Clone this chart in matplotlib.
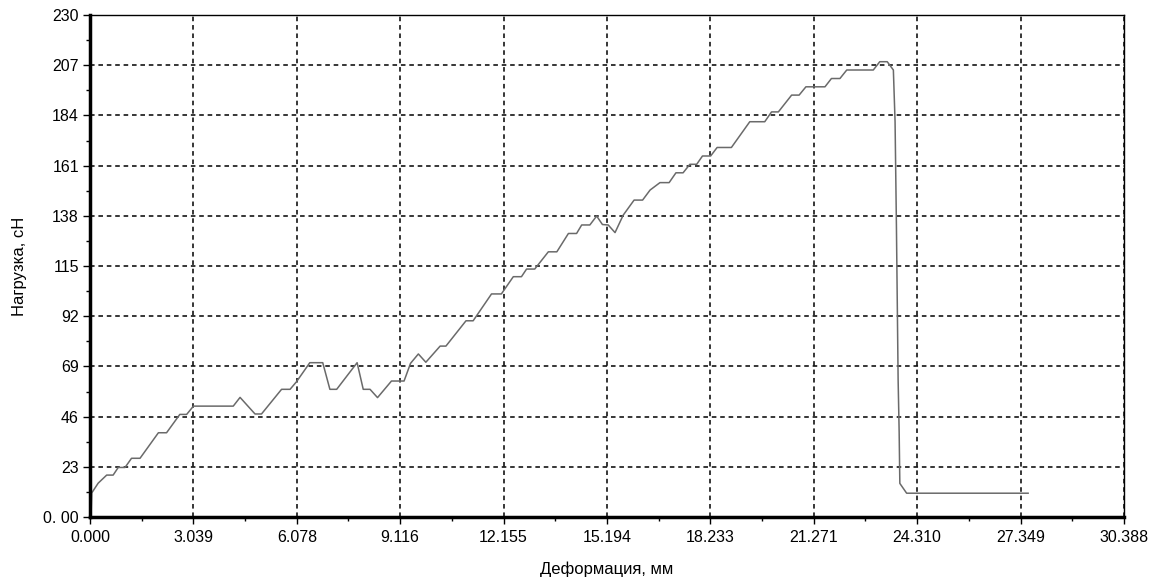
import matplotlib
matplotlib.use("Agg")
import matplotlib.pyplot as plt
from matplotlib.ticker import FixedLocator

plt.rcParams['font.family'] = ['Liberation Sans', 'DejaVu Sans']

# Deformation, mm
deform = [0.03, 0.05, 0.24, 0.49, 0.68, 0.83, 1.03, 1.22, 1.47, 2.01, 2.25, 2.64, 2.84,
          3.04, 4.21, 4.41, 4.85, 5.04, 5.63, 5.88, 6.07, 6.46, 6.84, 7.05, 7.25, 7.85,
          8.03, 8.23, 8.45, 8.86, 9.23, 9.42, 9.65, 9.87, 10.29, 10.46, 11.05, 11.26,
          11.80, 12.09, 12.44, 12.68, 12.83, 13.07, 13.47, 13.72, 14.06, 14.30, 14.45,
          14.69, 14.89, 15.06, 15.23, 15.43, 15.67, 15.99, 16.24, 16.46, 16.75, 17.02,
          17.22, 17.43, 17.63, 17.83, 18.00, 18.24, 18.43, 18.85, 19.39, 19.83, 20.03,
          20.23, 20.62, 20.84, 21.04, 21.60, 21.79, 22.04, 22.24, 23.02, 23.21, 23.43,
          23.61, 23.66, 23.70, 23.75, 23.78, 23.80, 24.00, 27.57]
# Load, cN
load = [0.0, 11.0, 15.5, 19.2, 19.2, 22.7, 22.7, 26.9, 26.9, 38.6, 38.6, 47.0, 47.0,
        50.8, 50.8, 54.8, 47.2, 47.2, 58.5, 58.5, 62.0, 70.7, 70.7, 58.5, 58.5, 70.7,
        58.5, 58.5, 54.7, 62.3, 62.3, 70.4, 74.7, 70.9, 78.3, 78.3, 89.9, 89.9,
        102.2, 102.2, 110.1, 110.1, 113.6, 113.6, 121.5, 121.5, 129.9, 129.9, 133.8,
        133.8, 137.9, 134.0, 133.8, 130.3, 138.3, 145.2, 145.2, 149.8, 153.2, 153.2,
        157.7, 157.7, 161.6, 161.6, 165.4, 165.4, 169.3, 169.3, 181.1, 181.1, 185.6,
        185.6, 193.3, 193.3, 197.1, 197.1, 200.9, 200.9, 204.8, 204.8, 208.6, 208.6,
        204.8, 181.1, 133.0, 62.7, 39.0, 15.4, 10.9, 10.9]

x_ticks = [0.000, 3.039, 6.078, 9.116, 12.155, 15.194, 18.233, 21.271, 24.310, 27.349, 30.388]
x_labels = ["0.000", "3.039", "6.078", "9.116", "12.155", "15.194", "18.233", "21.271",
            "24.310", "27.349", "30.388"]
y_ticks = [0, 23, 46, 69, 92, 115, 138, 161, 184, 207, 230]
y_labels = ["0. 00", "23", "46", "69", "92", "115", "138", "161", "184", "207", "230"]

fig = plt.figure(figsize=(11.49, 5.80), dpi=100)
ax = fig.add_axes([90/1149, 1 - 517/580, (1124 - 90)/1149, (517 - 15)/580])

ax.plot(deform, load, color='#6a6a6a', lw=1.1)

ax.set_xlim(0, 30.388)
ax.set_ylim(0, 230)
ax.set_xticks(x_ticks)
ax.set_xticklabels(x_labels)
ax.set_yticks(y_ticks)
ax.set_yticklabels(y_labels)
xm = [(x_ticks[i] + x_ticks[i + 1]) / 2 for i in range(len(x_ticks) - 1)]
ym = [(y_ticks[i] + y_ticks[i + 1]) / 2 for i in range(len(y_ticks) - 1)]
ax.xaxis.set_minor_locator(FixedLocator(xm))
ax.yaxis.set_minor_locator(FixedLocator(ym))

ax.tick_params(axis='both', which='major', direction='out', length=5, width=1,
               labelsize=11.5, colors='black')
ax.tick_params(axis='both', which='minor', direction='out', length=3, width=1)
ax.tick_params(axis='x', pad=4)
ax.tick_params(axis='y', pad=3)

ax.grid(True, which='major', color='black', linestyle=(0, (3, 2.5)), lw=1.1)
ax.set_axisbelow(True)

ax.spines['left'].set_linewidth(2.5)
ax.spines['bottom'].set_linewidth(2.5)
ax.spines['top'].set_linewidth(1.0)
ax.spines['right'].set_linewidth(1.0)

ax.set_xlabel("Деформация, мм", fontsize=12, labelpad=12)
ax.set_ylabel("Нагрузка, cH", fontsize=12, labelpad=12)

fig.savefig("out.png", dpi=100, facecolor='white')
